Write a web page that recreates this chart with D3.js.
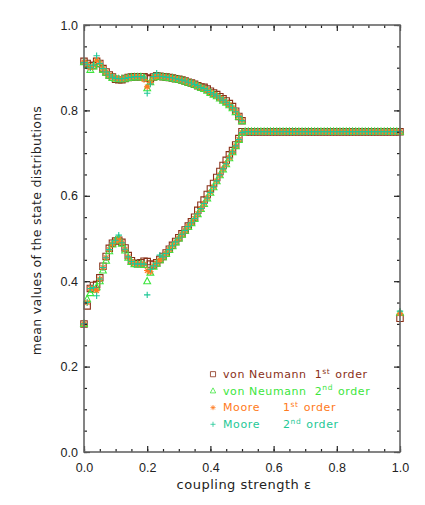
<!DOCTYPE html>
<html>
<head>
<meta charset="utf-8">
<script src="https://cdn.jsdelivr.net/npm/d3@7"></script>
<style>
  body { margin: 0; background: #fff; }
  svg { display: block; font-family: "DejaVu Sans", sans-serif; }
  .tick text { fill: #222; font-size: 12.5px; }
  .tick line { stroke: #222; stroke-width: 1.2; }
</style>
</head>
<body>
<div id="chart"></div>
<script>
// coupling strengths for the transient part (0 .. 0.5)
const eps = [0.00,0.01,0.02,0.03,0.04,0.05,0.06,0.07,0.08,0.09,
  0.10,0.11,0.12,0.13,0.14,0.15,0.16,0.17,0.18,0.19,
  0.20,0.21,0.22,0.23,0.24,0.25,0.26,0.27,0.28,0.29,
  0.30,0.31,0.32,0.33,0.34,0.35,0.36,0.37,0.38,0.39,
  0.40,0.41,0.42,0.43,0.44,0.45,0.46,0.47,0.48,0.49,0.50];

// plateau where both branches sit on 0.75
const plateauEps = [0.51,0.52,0.53,0.54,0.55,0.56,0.57,0.58,0.59,0.60,
  0.61,0.62,0.63,0.64,0.65,0.66,0.67,0.68,0.69,0.70,
  0.71,0.72,0.73,0.74,0.75,0.76,0.77,0.78,0.79,0.80,
  0.81,0.82,0.83,0.84,0.85,0.86,0.87,0.88,0.89,0.90,
  0.91,0.92,0.93,0.94,0.95,0.96,0.97,0.98,0.99];
const plateauMean = [0.75,0.75,0.75,0.75,0.75,0.75,0.75,0.75,0.75,0.75,
  0.75,0.75,0.75,0.75,0.75,0.75,0.75,0.75,0.75,0.75,
  0.75,0.75,0.75,0.75,0.75,0.75,0.75,0.75,0.75,0.75,
  0.75,0.75,0.75,0.75,0.75,0.75,0.75,0.75,0.75,0.75,
  0.75,0.75,0.75,0.75,0.75,0.75,0.75,0.75,0.75];

// upper branch
const vn1Upper = [0.915,0.910,0.905,0.905,0.915,0.910,0.898,0.890,0.883,0.878,
  0.873,0.872,0.872,0.875,0.877,0.878,0.879,0.879,0.879,0.879,
  0.876,0.874,0.878,0.881,0.880,0.879,0.878,0.877,0.876,0.874,
  0.873,0.871,0.869,0.866,0.864,0.861,0.858,0.855,0.854,0.850,
  0.845,0.841,0.837,0.832,0.827,0.822,0.816,0.809,0.798,0.786,0.776];
const vn2Upper = [0.913,0.906,0.895,0.903,0.914,0.908,0.895,0.888,0.881,0.876,
  0.874,0.873,0.873,0.874,0.876,0.877,0.878,0.878,0.878,0.876,
  0.852,0.866,0.877,0.880,0.879,0.878,0.877,0.876,0.875,0.873,
  0.872,0.870,0.868,0.865,0.863,0.860,0.857,0.853,0.850,0.846,
  0.841,0.837,0.833,0.828,0.823,0.818,0.812,0.805,0.796,0.785,0.775];
const m1Upper = [0.913,0.908,0.900,0.905,0.918,0.910,0.898,0.890,0.883,0.878,
  0.875,0.874,0.874,0.875,0.877,0.878,0.879,0.879,0.878,0.872,
  0.855,0.865,0.878,0.881,0.880,0.879,0.878,0.877,0.876,0.874,
  0.873,0.871,0.869,0.866,0.864,0.861,0.858,0.854,0.851,0.847,
  0.842,0.838,0.834,0.829,0.824,0.819,0.813,0.806,0.797,0.786,0.776];
const m2Upper = [0.912,0.907,0.900,0.906,0.928,0.910,0.898,0.890,0.883,0.878,
  0.875,0.874,0.874,0.875,0.877,0.878,0.879,0.879,0.879,0.876,
  0.840,0.862,0.879,0.887,0.880,0.879,0.878,0.877,0.876,0.874,
  0.873,0.871,0.869,0.866,0.864,0.861,0.858,0.854,0.851,0.847,
  0.842,0.838,0.834,0.829,0.824,0.819,0.813,0.806,0.797,0.786,0.776];

// lower branch
const vn1Lower = [0.300,0.342,0.383,0.390,0.392,0.408,0.435,0.458,0.477,0.489,
  0.494,0.496,0.491,0.478,0.460,0.448,0.442,0.441,0.443,0.447,
  0.446,0.440,0.438,0.443,0.451,0.458,0.466,0.475,0.484,0.493,
  0.502,0.511,0.520,0.529,0.539,0.550,0.566,0.578,0.590,0.603,
  0.616,0.629,0.643,0.657,0.671,0.683,0.696,0.706,0.719,0.734,0.750];
const vn2Lower = [0.300,0.358,0.372,0.380,0.386,0.400,0.425,0.448,0.470,0.486,
  0.495,0.500,0.488,0.472,0.455,0.445,0.440,0.439,0.440,0.438,
  0.400,0.420,0.434,0.441,0.449,0.456,0.464,0.473,0.482,0.491,
  0.500,0.509,0.518,0.527,0.536,0.546,0.557,0.569,0.581,0.594,
  0.607,0.620,0.634,0.648,0.662,0.674,0.688,0.702,0.716,0.731,0.747];
const m1Lower = [0.300,0.350,0.383,0.383,0.378,0.405,0.432,0.455,0.474,0.487,
  0.494,0.497,0.490,0.475,0.457,0.446,0.441,0.440,0.441,0.440,
  0.425,0.422,0.436,0.442,0.450,0.457,0.465,0.474,0.483,0.492,
  0.501,0.510,0.519,0.528,0.537,0.547,0.558,0.570,0.582,0.595,
  0.608,0.621,0.635,0.649,0.663,0.675,0.689,0.703,0.717,0.732,0.748];
const m2Lower = [0.300,0.350,0.383,0.385,0.366,0.405,0.432,0.455,0.474,0.489,
  0.496,0.508,0.490,0.475,0.457,0.446,0.441,0.440,0.441,0.440,
  0.368,0.428,0.436,0.442,0.461,0.457,0.465,0.474,0.483,0.492,
  0.501,0.510,0.519,0.528,0.537,0.547,0.558,0.570,0.582,0.595,
  0.608,0.621,0.635,0.649,0.663,0.675,0.689,0.703,0.717,0.732,0.748];

// values at coupling strength 1.0
const endEps = 1.0;
const endUpper = [0.750, 0.750, 0.750, 0.750];
const endLower = [0.313, 0.326, 0.324, 0.330];

const seriesNames = ["von Neumann", "von Neumann", "Moore", "Moore"];
const seriesOrders = ["1", "2", "1", "2"];
const seriesSuffix = ["st", "nd", "st", "nd"];
const seriesColors = ["#8a3018", "#3ce63c", "#ff7a20", "#1ec896"];
const seriesShapes = ["square", "triangle", "asterisk", "plus"];
const upperSets = [vn1Upper, vn2Upper, m1Upper, m2Upper];
const lowerSets = [vn1Lower, vn2Lower, m1Lower, m2Lower];

const xTicks = [0, 0.2, 0.4, 0.6, 0.8, 1.0];
const yTicks = [0, 0.2, 0.4, 0.6, 0.8, 1.0];
const minorTicks = d3.range(0, 21).map(i => i * 0.05);

const W = 425, H = 505;
const plotLeft = 84, plotRight = 400, plotTop = 25, plotBottom = 452;

const svg = d3.select("#chart").append("svg")
  .attr("width", W).attr("height", H);

const x = d3.scaleLinear().domain([0, 1]).range([plotLeft, plotRight]);
const y = d3.scaleLinear().domain([0, 1]).range([plotBottom, plotTop]);

const shapes = {
  square: "M-3.2,-3.2h6.4v6.4h-6.4Z",
  triangle: "M0,-3.8L3.4,2.5L-3.4,2.5Z",
  asterisk: "M-3.2,0h6.4M0,-3.2v6.4M-2.3,-2.3l4.6,4.6M-2.3,2.3l4.6,-4.6",
  plus: "M-3.2,0h6.4M0,-3.2v6.4"
};

// markers, brown first so the teal ends up on top
seriesShapes.forEach((shape, i) => {
  const pts = [];
  eps.forEach((e, j) => {
    pts.push([e, upperSets[i][j]]);
    pts.push([e, lowerSets[i][j]]);
  });
  plateauEps.forEach((e, j) => pts.push([e, plateauMean[j]]));
  pts.push([endEps, endUpper[i]]);
  pts.push([endEps, endLower[i]]);

  svg.append("g")
    .selectAll("path")
    .data(pts)
    .enter().append("path")
    .attr("transform", d => `translate(${x(d[0])},${y(d[1])})`)
    .attr("d", shapes[shape])
    .attr("fill", "none")
    .attr("stroke", seriesColors[i])
    .attr("stroke-width", 1.1);
});

// axes, ticks pointing inward on all four sides
const axisSpecs = [
  [d3.axisBottom(x), `translate(0,${plotBottom})`, true, true],
  [d3.axisTop(x), `translate(0,${plotTop})`, false, true],
  [d3.axisLeft(y), `translate(${plotLeft},0)`, true, false],
  [d3.axisRight(y), `translate(${plotRight},0)`, false, false]
];
axisSpecs.forEach(([axis, tr, labels, isX]) => {
  svg.append("g")
    .attr("transform", tr)
    .call(axis.tickValues(minorTicks).tickSize(-3).tickFormat(""))
    .call(g => g.select(".domain").remove());
  svg.append("g")
    .attr("transform", tr)
    .call(axis.tickValues(isX ? xTicks : yTicks).tickSize(-6)
      .tickPadding(isX ? 11 : 6)
      .tickFormat(labels ? d3.format(".1f") : ""))
    .call(g => g.select(".domain").remove());
});

svg.append("rect")
  .attr("x", plotLeft).attr("y", plotTop)
  .attr("width", plotRight - plotLeft).attr("height", plotBottom - plotTop)
  .attr("fill", "none")
  .attr("stroke", "#666")
  .attr("stroke-width", 1.6);

// axis titles
svg.append("text")
  .attr("x", (plotLeft + plotRight) / 2 + 2)
  .attr("y", 489)
  .attr("text-anchor", "middle")
  .attr("font-size", 13)
  .attr("letter-spacing", 0.5)
  .attr("fill", "#222")
  .text("coupling strength \u03b5");

svg.append("text")
  .attr("transform", `translate(41,${(plotTop + plotBottom) / 2 - 8}) rotate(-90)`)
  .attr("text-anchor", "middle")
  .attr("font-size", 12.5)
  .attr("letter-spacing", 0.3)
  .attr("fill", "#222")
  .text("mean values of the state distributions");

// legend: name, order number with superscript, then "order"
const legendX = 213, legendTop = 378, legendStep = 16.7;
seriesNames.forEach((name, i) => {
  const row = svg.append("g")
    .attr("transform", `translate(${legendX},${legendTop + i * legendStep})`);
  row.append("path")
    .attr("d", shapes[seriesShapes[i]])
    .attr("fill", "none")
    .attr("stroke", seriesColors[i])
    .attr("stroke-width", 1)
    .attr("transform", "translate(0,-3.8) scale(0.8)");
  const t = row.append("text")
    .attr("x", 10)
    .attr("fill", seriesColors[i])
    .attr("font-size", 11)
    .attr("letter-spacing", 0.6);
  t.append("tspan").text(name);
  const num = t.append("tspan").text(seriesOrders[i]);
  if (name === "Moore") num.attr("x", 70); else num.attr("dx", 8);
  t.append("tspan").attr("dy", -4.5).attr("font-size", 7.5).text(seriesSuffix[i]);
  t.append("tspan").attr("dy", 4.5).attr("dx", 5).text("order");
});
</script>
</body>
</html>
